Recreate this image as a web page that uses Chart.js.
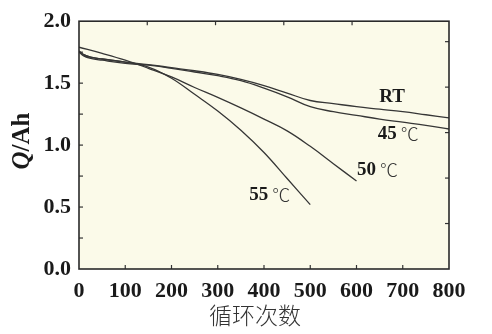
<!DOCTYPE html>
<html>
<head>
<meta charset="utf-8">
<script src="https://cdn.jsdelivr.net/npm/chart.js@4/dist/chart.umd.min.js"></script>
<style>
  html,body{margin:0;padding:0;background:#ffffff;}
  canvas{display:block;}
</style>
</head>
<body>
<canvas id="c" width="492" height="334"></canvas>
<script>
// ---- data ----
const cyclesRT  = [0,10,25,50,100,150,200,250,300,350,400,450,500,550,600,650,700,750,800];
const capRT     = [1.76,1.73,1.71,1.695,1.67,1.65,1.625,1.60,1.57,1.53,1.48,1.42,1.36,1.335,1.31,1.29,1.27,1.245,1.22];
const cycles45  = [0,10,25,50,100,150,200,250,300,350,400,450,500,550,600,650,700,750,800];
const cap45     = [1.75,1.72,1.70,1.685,1.66,1.645,1.62,1.59,1.56,1.52,1.46,1.39,1.31,1.27,1.24,1.21,1.185,1.16,1.13];
const cycles50  = [0,50,100,150,200,250,300,350,400,450,500,550,600];
const cap50     = [1.79,1.74,1.685,1.62,1.55,1.465,1.385,1.30,1.21,1.115,0.99,0.85,0.71];
const cycles55  = [0,10,25,50,100,150,200,250,300,350,400,450,500];
const cap55     = [1.76,1.73,1.71,1.695,1.67,1.63,1.54,1.41,1.275,1.12,0.94,0.73,0.52];

const xTicks = [0,100,200,300,400,500,600,700,800];
const yTicks = [0.0,0.5,1.0,1.5,2.0];

const seriesNames = ['RT','45','50','55'];
const labelText   = ['RT','45','50','55'];
const labelUnit   = ['','℃','℃','℃'];
const labelX      = [649,646,601,368];       // cycle position of label start
const labelY      = [1.39,1.09,0.80,0.60];   // capacity position of label centre

const xTitle = '循环次数';
const yTitleItalic = 'Q';
const yTitleRest = '/Ah';

function pts(xs, ys){ return xs.map((x,i)=>({x:x,y:ys[i]})); }

const lineColor = '#363636';
const ds = (name, xs, ys) => ({
  label: name, data: pts(xs, ys), borderColor: lineColor, borderWidth: 1.3,
  pointRadius: 0, fill: false, tension: 0.4,
  xAxisID: 'x', yAxisID: 'y'
});

const serif = '"Liberation Serif","Times New Roman",serif';

const decor = {
  id: 'decor',
  beforeDraw(chart){
    const {ctx, chartArea:a} = chart;
    ctx.save();
    ctx.fillStyle = '#fbfae9';
    ctx.fillRect(a.left, a.top, a.right-a.left, a.bottom-a.top);
    ctx.restore();
  },
  afterDraw(chart){
    const {ctx, chartArea:a, scales} = chart;
    ctx.save();
    ctx.strokeStyle = '#333';
    ctx.lineWidth = 1.2;
    const tl = 4;
    // bottom ticks
    xTicks.forEach(v=>{ const p = scales.x.getPixelForValue(v);
      if(v>0 && v<800){ ctx.beginPath(); ctx.moveTo(p,a.bottom); ctx.lineTo(p,a.bottom-tl); ctx.stroke(); }});
    // left ticks (every 0.25)
    for(let v=0.25; v<2.0; v+=0.25){ const p = scales.y.getPixelForValue(v);
      ctx.beginPath(); ctx.moveTo(a.left,p); ctx.lineTo(a.left+tl,p); ctx.stroke(); }
    // top ticks
    scales.x2.ticks.forEach(t=>{ const p = scales.x2.getPixelForValue(t.value);
      if(p>a.left+2 && p<a.right-2){ ctx.beginPath(); ctx.moveTo(p,a.top); ctx.lineTo(p,a.top+tl); ctx.stroke(); }});
    // right ticks
    scales.y2.ticks.forEach(t=>{ const p = scales.y2.getPixelForValue(t.value);
      if(p>a.top+2 && p<a.bottom-2){ ctx.beginPath(); ctx.moveTo(a.right,p); ctx.lineTo(a.right-tl,p); ctx.stroke(); }});
    // frame
    ctx.lineWidth = 1.6;
    ctx.strokeStyle = '#2a2a2a';
    ctx.strokeRect(a.left, a.top, a.right-a.left, a.bottom-a.top);

    // curve labels
    ctx.textBaseline = 'middle';
    labelText.forEach((t,i)=>{
      const px = scales.x.getPixelForValue(labelX[i]);
      const py = scales.y.getPixelForValue(labelY[i]);
      ctx.fillStyle = '#1a1a1a';
      ctx.font = 'bold 19px ' + serif;
      ctx.textAlign = 'left';
      ctx.fillText(t, px, py);
      if(labelUnit[i]){
        const w = ctx.measureText(t).width;
        ctx.font = '300 18px "Noto Sans CJK SC"';
        ctx.fillStyle = '#333';
        ctx.fillText(labelUnit[i], px + w + 4, py);
      }
    });

    // x title
    ctx.font = '300 23px "Noto Sans CJK SC"';
    ctx.fillStyle = '#333';
    ctx.textAlign = 'center';
    ctx.textBaseline = 'middle';
    ctx.fillText(xTitle, 255, 315);

    // y title (rotated)
    ctx.save();
    ctx.translate(23, 141);
    ctx.rotate(-Math.PI/2);
    ctx.fillStyle = '#1a1a1a';
    ctx.textBaseline = 'middle';
    ctx.font = 'italic bold 25px ' + serif;
    const w1 = ctx.measureText(yTitleItalic).width;
    ctx.font = 'bold 25px ' + serif;
    const w2 = ctx.measureText(yTitleRest).width;
    const start = -(w1+w2)/2;
    ctx.textAlign = 'left';
    ctx.font = 'italic bold 25px ' + serif;
    ctx.fillText(yTitleItalic, start, 0);
    ctx.font = 'bold 25px ' + serif;
    ctx.fillText(yTitleRest, start + w1, 0);
    ctx.restore();

    ctx.restore();
  }
};

new Chart(document.getElementById('c'), {
  type: 'line',
  data: { datasets: [
    ds(seriesNames[0], cyclesRT, capRT),
    ds(seriesNames[1], cycles45, cap45),
    ds(seriesNames[2], cycles50, cap50),
    ds(seriesNames[3], cycles55, cap55)
  ]},
  options: {
    responsive: false,
    animation: false,
    layout: { padding: 0 },
    plugins: { legend: {display:false}, tooltip: {enabled:false} },
    scales: {
      x: {
        type: 'linear', position: 'bottom', min: 0, max: 800,
        afterBuildTicks: s => { s.ticks = xTicks.map(v=>({value:v})); },
        ticks: { callback: v => String(v), color: '#1a1a1a', padding: 9, maxRotation: 0,
                 font: { family: serif, weight: 'bold', size: 22 } },
        grid: { display: false, drawTicks: false },
        border: { display: false },
        afterFit: s => { s.height = 65; }
      },
      x2: {
        type: 'linear', position: 'top', min: 0, max: 5.42,
        ticks: { display: false, stepSize: 1 },
        grid: { display: false, drawTicks: false },
        border: { display: false },
        afterFit: s => { s.height = 10; }
      },
      y: {
        type: 'linear', position: 'left', min: 0, max: 2.0,
        afterBuildTicks: s => { s.ticks = yTicks.map(v=>({value:v})); },
        ticks: { callback: v => v.toFixed(1), color: '#1a1a1a', padding: 8,
                 font: { family: serif, weight: 'bold', size: 22 } },
        grid: { display: false, drawTicks: false },
        border: { display: false },
        afterFit: s => { s.width = 79; }
      },
      y2: {
        type: 'linear', position: 'right', min: 0, max: 5.45,
        ticks: { display: false, stepSize: 1 },
        grid: { display: false, drawTicks: false },
        border: { display: false },
        afterFit: s => { s.width = 43; }
      }
    }
  },
  plugins: [decor]
});
</script>
</body>
</html>
